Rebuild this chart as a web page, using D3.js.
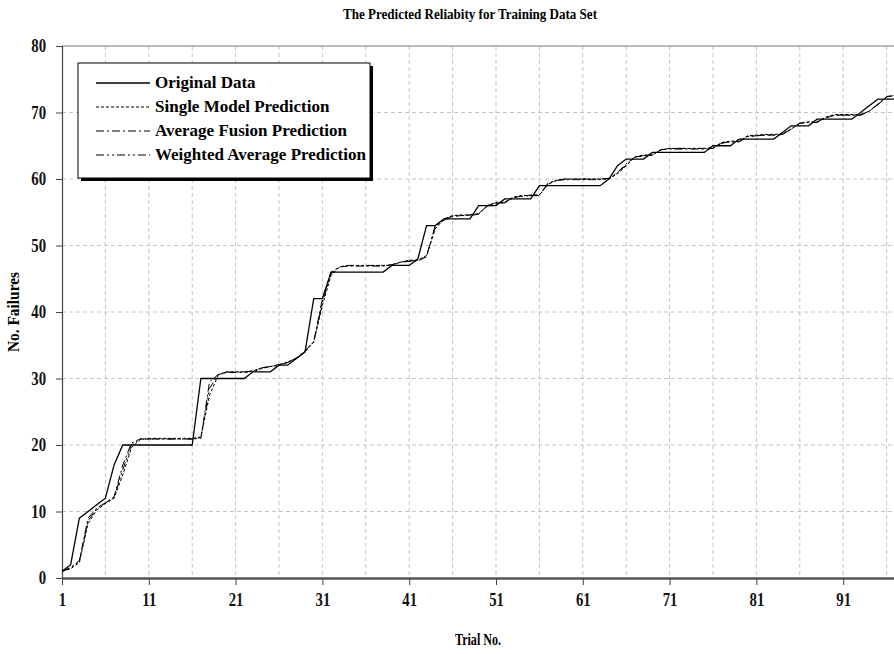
<!DOCTYPE html>
<html>
<head>
<meta charset="utf-8">
<script src="https://cdn.jsdelivr.net/npm/d3@7"></script>
<style>
  body { margin: 0; background: #fff; }
  svg { display: block; font-family: 'Liberation Serif', 'Times New Roman', serif; font-weight: bold; }
</style>
</head>
<body>
<script>
var trials = d3.range(1, 98);

var originalData = [
  1, 2, 9, 10, 11, 12, 17, 20, 20, 20,
  20, 20, 20, 20, 20, 20, 30, 30, 30, 30,
  30, 30, 31, 31, 31, 32, 32, 33, 34, 42,
  42, 46, 46, 46, 46, 46, 46, 46, 47, 47,
  47, 48, 53, 53, 54, 54, 54, 54, 56, 56,
  56, 57, 57, 57, 57, 59, 59, 59, 59, 59,
  59, 59, 59, 60, 62, 63, 63, 63, 64, 64,
  64, 64, 64, 64, 64, 65, 65, 65, 66, 66,
  66, 66, 66, 67, 68, 68, 68, 69, 69, 69,
  69, 69, 70, 71, 72, 72, 72
];

var singleModel = [
  1, 1.4, 2.3, 8.2, 10.2, 11.2, 12.0, 15.5, 19.6, 20.8,
  21, 21, 21, 21, 21, 21, 21.2, 27.5, 30.5, 31,
  31, 31, 31, 31.5, 31.8, 32, 32.5, 33, 34, 35.5,
  41, 45.5, 46.8, 47, 47, 47, 47, 47, 47, 47.5,
  47.8, 47.8, 48.5, 52.5, 54, 54.5, 54.6, 54.6, 54.8, 56,
  56.5, 56.5, 57.3, 57.5, 57.6, 57.6, 59.2, 59.8, 60, 60,
  60, 60, 60, 60, 60.8, 62, 63.3, 63.6, 63.6, 64.4,
  64.6, 64.6, 64.6, 64.6, 64.6, 64.7, 65.5, 65.7, 65.7, 66.5,
  66.6, 66.7, 66.7, 66.8, 67.5, 68.4, 68.6, 68.6, 69.3, 69.7,
  69.7, 69.7, 69.7, 70.2, 71.2, 72.3, 72.6
];

var averageFusion = [
  1, 1.6, 2.6, 9, 10.5, 11.3, 12.2, 17, 20.3, 20.9,
  20.9, 20.9, 20.9, 20.9, 20.9, 20.9, 21, 29.5, 30.6, 30.9,
  30.9, 30.9, 31.2, 31.6, 31.8, 32.1, 32.4, 33.1, 34.2, 35.5,
  42, 46, 46.8, 46.9, 46.9, 46.9, 46.9, 46.9, 47.1, 47.5,
  47.6, 47.7, 48.3, 53, 53.8, 54.4, 54.5, 54.5, 54.7, 55.9,
  56.3, 56.4, 57.2, 57.4, 57.5, 57.5, 59.4, 59.8, 59.9, 59.9,
  59.9, 59.9, 59.9, 60.1, 61, 62.3, 63.3, 63.5, 63.6, 64.4,
  64.5, 64.5, 64.5, 64.5, 64.5, 64.6, 65.4, 65.6, 65.6, 66.4,
  66.5, 66.6, 66.6, 66.7, 67.5, 68.4, 68.5, 68.5, 69.2, 69.6,
  69.6, 69.6, 69.6, 70.2, 71.3, 72.4, 72.6
];

var weightedAverage = [
  1, 1.5, 2.5, 8.6, 10.4, 11.3, 12.1, 16.3, 20.0, 20.9,
  20.9, 20.9, 20.9, 20.9, 20.9, 20.9, 21.1, 28.5, 30.6, 31,
  31, 31, 31.1, 31.6, 31.8, 32, 32.4, 33, 34.1, 35.5,
  41.5, 45.8, 46.8, 47, 47, 47, 47, 47, 47.1, 47.5,
  47.7, 47.7, 48.4, 52.8, 53.9, 54.4, 54.5, 54.6, 54.8, 56,
  56.4, 56.5, 57.2, 57.5, 57.5, 57.6, 59.3, 59.8, 60, 60,
  60, 60, 60, 60.1, 60.9, 62.1, 63.3, 63.5, 63.6, 64.4,
  64.6, 64.6, 64.6, 64.6, 64.6, 64.6, 65.4, 65.6, 65.6, 66.4,
  66.5, 66.6, 66.6, 66.7, 67.5, 68.4, 68.5, 68.6, 69.2, 69.6,
  69.6, 69.6, 69.6, 70.2, 71.2, 72.3, 72.6
];

var seriesNames = ['Original Data', 'Single Model Prediction', 'Average Fusion Prediction', 'Weighted Average Prediction'];
var seriesValues = [originalData, singleModel, averageFusion, weightedAverage];
var seriesDash = [null, '3,2', '8,3,2,3', '8,3,2,3,2,3'];
var seriesWidth = [1.3, 1, 1, 1];

var xTicks = [1, 11, 21, 31, 41, 51, 61, 71, 81, 91];
var xGrid = [6, 11, 16, 21, 26, 31, 36, 41, 46, 51, 56, 61, 66, 71, 76, 81, 86, 91, 96];
var yTicks = [0, 10, 20, 30, 40, 50, 60, 70, 80];

var w = 894;
var h = 654;
var plotLeft = 62, plotTop = 46, plotBottom = 578;
var squeeze = 0.82; // the source font is narrow, so glyphs get squeezed

var svg = d3
  .select('body')
  .append('svg')
  .attr('width', w)
  .attr('height', h);

var xScale = d3
  .scaleLinear()
  .domain([1, 97])
  .range([plotLeft, plotLeft + 96 * 8.68]);

var yScale = d3
  .scaleLinear()
  .domain([0, 80])
  .range([plotBottom, plotTop]);

// grid
svg
  .append('g')
  .selectAll('line')
  .data(yTicks.filter(d => d > 0 && d < 80))
  .enter()
  .append('line')
  .attr('x1', plotLeft)
  .attr('x2', w)
  .attr('y1', d => yScale(d))
  .attr('y2', d => yScale(d))
  .attr('stroke', '#c4c4c4')
  .attr('stroke-dasharray', '4,3');

svg
  .append('g')
  .selectAll('line')
  .data(xGrid)
  .enter()
  .append('line')
  .attr('x1', d => xScale(d))
  .attr('x2', d => xScale(d))
  .attr('y1', plotTop)
  .attr('y2', plotBottom)
  .attr('stroke', '#c4c4c4')
  .attr('stroke-dasharray', '4,3');

// plot top border
svg
  .append('line')
  .attr('x1', plotLeft)
  .attr('x2', w)
  .attr('y1', plotTop)
  .attr('y2', plotTop)
  .attr('stroke', '#a0a0a0')
  .attr('stroke-width', 1.5);

// axes
var yAxis = d3.axisLeft(yScale).tickValues(yTicks).tickSize(6).tickPadding(10);
var gy = svg
  .append('g')
  .attr('transform', `translate(${plotLeft}, 0)`)
  .call(yAxis);
gy.select('.domain').attr('stroke', '#444').attr('stroke-width', 1.2);
gy.selectAll('.tick line').attr('stroke', '#444');
gy.selectAll('text')
  .attr('font-family', 'Liberation Serif')
  .attr('font-weight', 'bold')
  .attr('font-size', 18)
  .attr('fill', '#111')
  .attr('x', -16 / squeeze)
  .attr('transform', `scale(${squeeze},1)`);

var xAxis = d3.axisBottom(xScale).tickValues(xTicks).tickSize(7).tickPadding(8).tickSizeOuter(0);
var gx = svg
  .append('g')
  .attr('transform', `translate(0, ${plotBottom})`)
  .call(xAxis);
gx.select('.domain').attr('stroke', '#555').attr('stroke-width', 2.5);
gx.selectAll('.tick line').attr('stroke', '#444');
gx.selectAll('text')
  .attr('font-family', 'Liberation Serif')
  .attr('font-weight', 'bold')
  .attr('font-size', 18)
  .attr('fill', '#111')
  .attr('transform', `scale(${squeeze},1)`);

// series
var line = d3
  .line()
  .x((d, i) => xScale(trials[i]))
  .y(d => yScale(d));

svg
  .append('g')
  .selectAll('path')
  .data(seriesValues)
  .enter()
  .append('path')
  .attr('d', d => line(d))
  .attr('fill', 'none')
  .attr('stroke', '#000')
  .attr('stroke-width', (d, i) => seriesWidth[i])
  .attr('stroke-dasharray', (d, i) => seriesDash[i]);

// titles
svg
  .append('text')
  .attr('x', 470)
  .attr('y', 19)
  .attr('text-anchor', 'middle')
  .attr('font-size', 14)
  .attr('textLength', 254)
  .attr('lengthAdjust', 'spacingAndGlyphs')
  .text('The Predicted Reliabity for Training Data Set');

svg
  .append('text')
  .attr('x', 478)
  .attr('y', 645)
  .attr('text-anchor', 'middle')
  .attr('font-size', 16)
  .attr('textLength', 46)
  .attr('lengthAdjust', 'spacingAndGlyphs')
  .text('Trial No.');

svg
  .append('text')
  .attr('transform', 'translate(19, 312) rotate(-90)')
  .attr('text-anchor', 'middle')
  .attr('font-size', 16)
  .attr('textLength', 80)
  .attr('lengthAdjust', 'spacingAndGlyphs')
  .text('No. Failures');

// legend
var legend = svg.append('g');

legend
  .append('rect')
  .attr('x', 81)
  .attr('y', 66)
  .attr('width', 292)
  .attr('height', 115)
  .attr('fill', '#000');

legend
  .append('rect')
  .attr('x', 78)
  .attr('y', 63)
  .attr('width', 292)
  .attr('height', 115)
  .attr('fill', '#fff')
  .attr('stroke', '#000')
  .attr('stroke-width', 1);

var items = legend
  .selectAll('g.item')
  .data(seriesNames)
  .enter()
  .append('g')
  .attr('class', 'item')
  .attr('transform', (d, i) => `translate(0, ${83 + i * 24})`);

items
  .append('line')
  .attr('x1', 96)
  .attr('x2', 150)
  .attr('stroke', '#000')
  .attr('stroke-width', (d, i) => seriesWidth[i])
  .attr('stroke-dasharray', (d, i) => seriesDash[i]);

items
  .append('text')
  .attr('x', 155)
  .attr('y', 5)
  .attr('font-size', 17)
  .text(d => d);
</script>
</body>
</html>
